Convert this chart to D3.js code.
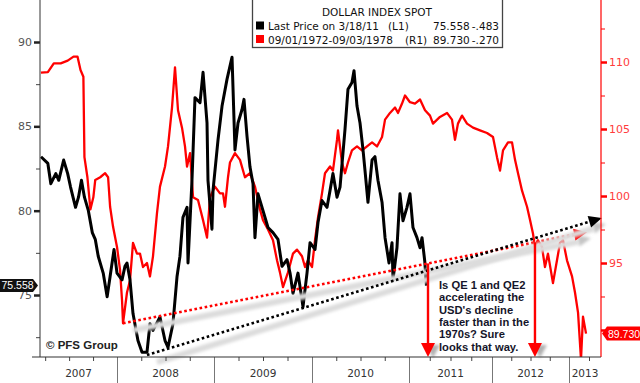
<!DOCTYPE html>
<html><head><meta charset="utf-8">
<script src="https://cdn.jsdelivr.net/npm/d3@7"></script>
<style>body{margin:0;background:#fff}svg{display:block}</style>
</head><body>
<svg id="c" width="640" height="383"></svg>
<script>
// ---- DATA (decimal years, values) ----
const blackYears = [2007.206,2007.278,2007.309,2007.361,2007.392,2007.443,2007.485,2007.515,2007.567,2007.598,2007.629,2007.660,2007.701,2007.742,2007.773,2007.804,2007.856,2007.897,2007.928,2007.969,2008.000,2008.052,2008.082,2008.103,2008.134,2008.165,2008.216,2008.258,2008.309,2008.340,2008.371,2008.443,2008.495,2008.526,2008.577,2008.619,2008.649,2008.680,2008.722,2008.732,2008.773,2008.804,2008.856,2008.887,2008.928,2008.938,2008.979,2008.990,2009.041,2009.082,2009.133,2009.184,2009.214,2009.245,2009.286,2009.306,2009.337,2009.367,2009.398,2009.418,2009.449,2009.500,2009.551,2009.602,2009.653,2009.694,2009.745,2009.776,2009.806,2009.857,2009.898,2009.908,2009.949,2009.980,2010.031,2010.062,2010.103,2010.155,2010.186,2010.216,2010.258,2010.289,2010.340,2010.371,2010.412,2010.433,2010.464,2010.495,2010.526,2010.546,2010.577,2010.619,2010.649,2010.680,2010.722,2010.753,2010.794,2010.825,2010.835,2010.876,2010.907,2010.938,2010.979,2011.012,2011.048,2011.096,2011.133,2011.157,2011.190,2011.210];
const blackValues = [83.2,82.8,81.6,82.2,81.8,83.0,82.2,81.4,80.2,80.8,81.8,80.8,80.0,78.7,78.3,77.3,76.3,74.9,76.1,77.7,76.3,75.9,76.7,76.9,75.9,73.9,72.3,71.6,71.6,73.3,72.9,73.7,72.3,71.9,73.3,76.1,77.3,79.6,80.2,76.9,81.8,86.7,86.4,88.2,85.2,81.8,78.9,81.2,84.2,86.2,87.8,89.1,83.6,85.2,86.0,86.6,84.4,82.6,81.6,78.4,81.0,80.0,79.0,78.7,78.3,76.7,77.1,76.3,75.1,76.3,74.7,74.3,76.3,78.1,77.7,79.3,80.6,80.2,81.2,82.2,80.8,81.4,84.8,87.2,87.6,88.3,86.2,85.2,83.6,82.4,80.5,83.0,83.2,81.8,80.5,78.4,76.9,78.1,75.9,77.8,81.0,79.4,80.2,81.0,79.0,78.4,77.8,78.4,77.0,75.558];

const redYears = [2007.206,2007.278,2007.340,2007.412,2007.485,2007.546,2007.588,2007.619,2007.649,2007.660,2007.691,2007.722,2007.753,2007.773,2007.825,2007.876,2007.907,2007.928,2007.959,2008.000,2008.031,2008.052,2008.062,2008.103,2008.134,2008.165,2008.206,2008.237,2008.268,2008.309,2008.340,2008.371,2008.412,2008.443,2008.495,2008.526,2008.567,2008.598,2008.629,2008.670,2008.701,2008.722,2008.753,2008.784,2008.835,2008.887,2008.928,2008.959,2009.010,2009.061,2009.092,2009.112,2009.143,2009.163,2009.214,2009.265,2009.316,2009.367,2009.418,2009.469,2009.500,2009.551,2009.602,2009.643,2009.673,2009.704,2009.755,2009.806,2009.847,2009.898,2009.929,2009.959,2010.000,2010.031,2010.062,2010.103,2010.134,2010.186,2010.216,2010.258,2010.268,2010.309,2010.340,2010.371,2010.412,2010.464,2010.515,2010.567,2010.619,2010.670,2010.722,2010.753,2010.804,2010.856,2010.887,2010.928,2010.959,2011.012,2011.072,2011.133,2011.193,2011.253,2011.289,2011.373,2011.458,2011.518,2011.554,2011.590,2011.639,2011.699,2011.771,2011.855,2011.940,2012.013,2012.065,2012.104,2012.143,2012.208,2012.260,2012.299,2012.338,2012.390,2012.455,2012.494,2012.532,2012.558,2012.597,2012.649,2012.688,2012.727,2012.792,2012.844,2012.883,2012.922,2012.974,2013.038,2013.075,2013.113,2013.150,2013.175,2013.213];
const redValues = [109.2,109.25,109.9,109.9,110.1,110.4,110.4,109.4,108.9,102.9,101.4,99.0,99.9,101.2,101.4,101.7,101.4,99.2,97.7,96.2,94.5,92.2,90.5,92.8,93.7,96.5,95.7,95.7,94.7,95.0,94.0,95.5,98.7,100.7,102.2,103.7,106.6,109.6,106.4,105.1,103.7,102.2,103.2,99.9,99.7,98.2,96.9,99.9,100.7,100.2,100.2,99.2,101.4,102.5,103.2,102.7,101.4,101.7,100.7,99.0,98.2,97.5,96.7,95.2,94.3,93.2,94.3,95.7,96.0,95.5,94.7,95.2,94.7,96.7,98.4,100.2,101.7,102.2,101.9,104.2,104.9,102.5,101.7,102.5,103.4,103.7,103.4,103.7,104.0,103.7,104.4,105.7,106.2,106.6,106.2,106.9,107.5,107.0,106.9,107.2,106.4,106.0,105.4,105.9,106.2,105.7,104.2,105.4,106.0,105.4,105.1,104.9,104.7,104.4,102.9,101.9,103.4,104.0,104.0,102.7,101.7,100.4,99.2,98.2,97.2,96.2,96.7,96.2,94.7,95.7,93.5,95.2,96.5,96.7,95.2,94.0,92.8,91.3,87.8,91.0,89.73];

const yearLabels = ["2007","2008","2009","2010","2011","2012","2013"];
const leftTicks = [75,80,85,90];
const leftMinor = [72.5,77.5,82.5,87.5];
const rightTicks = [90,95,100,105,110];
const rightMinor = [92.5,97.5,102.5,107.5,112.5];

// trend lines: [year, value] endpoints
const blackTrendYears = [2008.309, 2013.41];
const blackTrendValues = [71.44, 79.57];
const redTrendYears = [2008.062, 2013.225];
const redTrendValues = [90.5, 97.3];
const dropArrowYears = [2011.229, 2012.558];

const legendTitle = "DOLLAR INDEX SPOT";
const legendRows = [
  {name:"Last Price on 3/18/11", axis:"(L1)", last:"75.558", chg:"-.483", color:"#000"},
  {name:"09/01/1972-09/03/1978", axis:"(R1)", last:"89.730", chg:"-.270", color:"#ff0000"}
];
const noteLines = ["Is QE 1 and QE2","accelerating the","USD's decline","faster than in the","1970s? Sure","looks that way."];

// ---- LAYOUT ----
const L = 40, R = 601, T = 0, B = 357;
const FONT = "Tahoma, 'DejaVu Sans', sans-serif";
const NFONT = "'Liberation Sans', Arial, sans-serif";
const svg = d3.select("#c");

const x = d3.scaleLinear()
  .domain([2007.196, 2008, 2009, 2010, 2011, 2012, 2013, 2013.4])
  .range([L, 117, 214, 312, 409, 492, 569, R]);
const yL = d3.scaleLinear().domain([71.325, 92.49]).range([B, T]);
const yR = d3.scaleLinear().domain([87.985, 114.627]).range([B, T]);

const defs = svg.append("defs");
defs.append("clipPath").attr("id","clip").append("rect")
  .attr("x", L).attr("y", T).attr("width", R - L).attr("height", B - T);
const f = defs.append("filter").attr("id","blur").attr("x","-20%").attr("y","-50%").attr("width","140%").attr("height","200%");
f.append("feGaussianBlur").attr("stdDeviation", 1.8);

const plot = svg.append("g").attr("clip-path","url(#clip)");

// series
const redData = redYears.map((t,i)=>[t, redValues[i]]);
const blackData = blackYears.map((t,i)=>[t, blackValues[i]]);
plot.append("path").datum(redData)
  .attr("d", d3.line().x(d=>x(d[0])).y(d=>yR(d[1])))
  .attr("fill","none").attr("stroke","#ff0000").attr("stroke-width",2.3).attr("stroke-linejoin","round");
plot.append("path").datum(blackData)
  .attr("d", d3.line().x(d=>x(d[0])).y(d=>yL(d[1])))
  .attr("fill","none").attr("stroke","#000").attr("stroke-width",3).attr("stroke-linejoin","round");

// trend lines with shadow
function trend(ty, tv, yS, color) {
  const x1 = x(ty[0]), y1 = yS(tv[0]), x2 = x(ty[1]), y2 = yS(tv[1]);
  const ang = Math.atan2(y2 - y1, x2 - x1);
  const hl = 13, hw = 6;
  const bx = x2 - hl*Math.cos(ang), by = y2 - hl*Math.sin(ang);
  const head = [[x2,y2],[bx + hw*Math.sin(ang), by - hw*Math.cos(ang)],[bx - hw*Math.sin(ang), by + hw*Math.cos(ang)]];
  svg.append("line").attr("x1",x1+10).attr("y1",y1+7).attr("x2",bx+4).attr("y2",by+7)
    .attr("stroke","#dcdcdc").attr("stroke-width",6).attr("filter","url(#blur)");
  svg.append("polygon").attr("points", head.map(p=>[p[0]+4,p[1]+6].join(",")).join(" "))
    .attr("fill","#c4c4c4").attr("filter","url(#blur)");
  svg.append("line").attr("x1",x1).attr("y1",y1).attr("x2",bx).attr("y2",by)
    .attr("stroke",color).attr("stroke-width",2.6).attr("stroke-dasharray","2.6 2.6");
  svg.append("polygon").attr("points", head.map(p=>p.join(",")).join(" ")).attr("fill",color);
  return {x1,y1,x2,y2};
}
const rt = trend(redTrendYears, redTrendValues, yR, "#ff0000");
const bt = trend(blackTrendYears, blackTrendValues, yL, "#000");

// vertical drop arrows
dropArrowYears.forEach(t => {
  const ax = x(t);
  const top = rt.y1 + (rt.y2 - rt.y1) * (ax - rt.x1) / (rt.x2 - rt.x1);
  svg.append("line").attr("x1",ax+4).attr("y1",top+6).attr("x2",ax+4).attr("y2",B-8)
    .attr("stroke","#d0d0d0").attr("stroke-width",4).attr("filter","url(#blur)");
  svg.append("polygon").attr("points",`${ax-2},${B-12} ${ax+12},${B-12} ${ax+5},${B+1}`)
    .attr("fill","#b0b0b0").attr("filter","url(#blur)");
  svg.append("line").attr("x1",ax).attr("y1",top).attr("x2",ax).attr("y2",B-12)
    .attr("stroke","#ff0000").attr("stroke-width",2.4);
  svg.append("polygon").attr("points",`${ax-7},${B-14} ${ax+7},${B-14} ${ax},${B}`).attr("fill","#ff0000");
});

// axes
const gL = svg.append("g").attr("transform",`translate(${L},0)`);
gL.call(d3.axisLeft(yL).tickValues(leftTicks).tickSize(6).tickPadding(2).tickFormat(d3.format("d")));
gL.call(g=>g.select(".domain").remove());
gL.selectAll(".tick line").attr("stroke","#222").attr("stroke-width",2.5);
gL.selectAll(".tick text").attr("fill","#555").attr("font-family",FONT).attr("font-size",11);
svg.append("g").attr("transform",`translate(${L},0)`)
  .call(d3.axisLeft(yL).tickValues(leftMinor).tickSize(4).tickFormat(""))
  .call(g=>g.select(".domain").remove())
  .selectAll(".tick line").attr("stroke","#444");
svg.append("line").attr("x1",L).attr("x2",L).attr("y1",T).attr("y2",B).attr("stroke","#333").attr("stroke-width",1);

// right axis; the 90 label sits under the last-price tag, as in the source
const gR = svg.append("g").attr("transform",`translate(${R},0)`);
gR.call(d3.axisRight(yR).tickValues(rightTicks).tickSize(6).tickPadding(2)
  .tickFormat(d => d === 90 ? "" : d3.format("d")(d)));
gR.call(g=>g.select(".domain").remove());
gR.selectAll(".tick line").attr("stroke","#ff0000").attr("stroke-width",2.5);
gR.selectAll(".tick text").attr("fill","#ff3c3c").attr("font-family",FONT).attr("font-size",11);
svg.append("g").attr("transform",`translate(${R},0)`)
  .call(d3.axisRight(yR).tickValues(rightMinor).tickSize(4).tickFormat(""))
  .call(g=>g.select(".domain").remove())
  .selectAll(".tick line").attr("stroke","#ff0000");
svg.append("line").attr("x1",R).attr("x2",R).attr("y1",T).attr("y2",B).attr("stroke","#ff0000").attr("stroke-width",1.2);

// bottom axis
const x0 = x.domain()[0], x1d = x.domain()[x.domain().length-1];
const quarters = [];
yearLabels.forEach(y => [0.25,0.5,0.75].forEach(q => { const v = +y + q; if (v > x0 && v < x1d) quarters.push(v); }));
const yearStarts = yearLabels.map(Number).filter(v => v > x0 && v < x1d);
svg.append("g").attr("transform",`translate(0,${B})`)
  .call(d3.axisBottom(x).tickValues(quarters).tickSize(4).tickFormat(""))
  .call(g=>g.select(".domain").remove())
  .selectAll(".tick line").attr("stroke","#444");
svg.append("g").attr("transform",`translate(0,${B})`)
  .call(d3.axisBottom(x).tickValues(yearStarts).tickSize(26).tickFormat(""))
  .call(g=>g.select(".domain").remove())
  .selectAll(".tick line").attr("stroke","#777");
svg.append("line").attr("x1",L-8).attr("x2",R).attr("y1",B).attr("y2",B).attr("stroke","#333").attr("stroke-width",1.2);
svg.append("g").selectAll("text").data(yearLabels).join("text")
  .attr("x", d => x((Math.max(+d, x0) + Math.min(+d + 1, x1d)) / 2))
  .attr("y", 377).attr("text-anchor","middle")
  .attr("font-family",FONT).attr("font-size",10.5).attr("fill","#333").text(d=>d);

// legend
const lg = svg.append("g");
lg.append("rect").attr("x",252.5).attr("y",-1).attr("width",250).attr("height",48.5)
  .attr("fill","#fff").attr("stroke","#444").attr("stroke-width",1.3);
lg.append("text").attr("x",377).attr("y",16).attr("text-anchor","middle")
  .attr("font-family",FONT).attr("font-size",10.5).attr("fill","#111").text(legendTitle);
legendRows.forEach((r,i) => {
  const yy = 30 + i*13.5;
  lg.append("rect").attr("x",256).attr("y",yy-8.5).attr("width",8).attr("height",8).attr("fill",r.color);
  const t = (xx, s, a) => lg.append("text").attr("x",xx).attr("y",yy).attr("text-anchor",a||"start")
    .attr("font-family",FONT).attr("font-size",10.5).attr("fill","#111").text(s);
  t(268, r.name);
  t(i===0 ? 388 : 405, r.axis);
  t(433, r.last);
  t(499, r.chg, "end");
});

// price tags
const tagL = yL(blackValues[blackValues.length-1]);
svg.append("path").attr("d",`M0,${tagL-6.5} H33 L38,${tagL} L33,${tagL+6.5} H0 Z`).attr("fill","#111");
svg.append("text").attr("x",1.5).attr("y",tagL+3.8).attr("font-family",NFONT).attr("font-size",10.5).attr("fill","#fff").text("75.558");
const tagR = yR(redValues[redValues.length-1]);
svg.append("path").attr("d",`M${R+1},${tagR} L${R+6},${tagR-7} H640 V${tagR+7} H${R+6} Z`).attr("fill","#ff0000");
svg.append("text").attr("x",R+7).attr("y",tagR+4).attr("font-family",NFONT).attr("font-size",10.5).attr("fill","#fff").text("89.730");

// annotation
svg.append("g").selectAll("text").data(noteLines).join("text")
  .attr("x",439).attr("y",(d,i)=>289 + i*12.3)
  .attr("font-family",NFONT).attr("font-weight","bold").attr("font-size",11.2)
  .attr("fill","#15152a").text(d=>d);
svg.append("text").attr("x",46).attr("y",349)
  .attr("font-family",NFONT).attr("font-weight","bold").attr("font-size",11.5)
  .attr("fill","#222").text("© PFS Group");
</script>
</body></html>
